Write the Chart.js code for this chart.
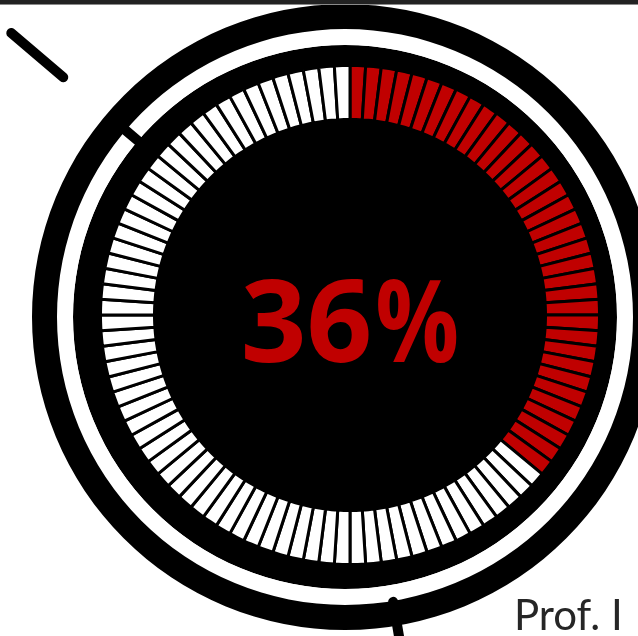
<!DOCTYPE html>
<html>
<head>
<meta charset="utf-8">
<script src="https://cdn.jsdelivr.net/npm/chart.js@4.4.1/dist/chart.umd.min.js"></script>
<style>
  html, body { margin: 0; padding: 0; width: 638px; height: 636px; overflow: hidden; background: #fff; }
  #ringCanvas { position: absolute; left: 0; top: 0; }
  #gaugeCanvas { position: absolute; left: 99px; top: 64px; }
  #topBar { position: absolute; left: 0; top: 0; width: 638px; height: 4px; background: #222; border-bottom: 1px solid #8a8a8a; }
  #caption { position: absolute; left: 514px; top: 593px; font-family: Lato, "Open Sans", sans-serif; font-size: 42px; line-height: 42px; color: #262626; white-space: nowrap; }
</style>
</head>
<body>
<canvas id="ringCanvas" width="660" height="636"></canvas>
<canvas id="gaugeCanvas" width="502" height="502"></canvas>
<div id="topBar"></div>
<div id="caption">Prof. I</div>
<script>
// Gauge reading and its cell layout
const percentValue = 36;
const cellCount = 100;
const cellColors = { filled: '#c00000', empty: '#ffffff' };

// Bezel rings, outermost first, with their relative thickness
const ringNames = ['outer rim', 'inner groove', 'face'];
const ringWeights = [25, 16, 272];
const ringColors = ['#000000', '#ffffff', '#000000'];

// Pointer strokes on the bezel: angle in degrees clockwise from 12 o'clock,
// radial extent as a fraction of the rim radius
const pointerAngles = [310.4, 310.4, 170.4];
const pointerFrom = [0.86, 1.182, 0.923];
const pointerTo = [0.93, 1.40, 1.25];

const cells = Array.from({ length: cellCount }, () => 1);
const cellFill = cells.map((_, i) => i < percentValue ? cellColors.filled : cellColors.empty);

const pointerPlugin = {
  id: 'pointers',
  afterDraw(chart) {
    const arc = chart.getDatasetMeta(0).data[0];
    const cx = arc.x, cy = arc.y, R = arc.outerRadius;
    const ctx = chart.ctx;
    ctx.save();
    ctx.strokeStyle = '#000';
    ctx.lineWidth = 10;
    ctx.lineCap = 'round';
    pointerAngles.forEach((deg, i) => {
      const a = deg * Math.PI / 180;
      const sx = Math.sin(a), sy = -Math.cos(a);
      ctx.beginPath();
      ctx.moveTo(cx + sx * R * pointerFrom[i], cy + sy * R * pointerFrom[i]);
      ctx.lineTo(cx + sx * R * pointerTo[i], cy + sy * R * pointerTo[i]);
      ctx.stroke();
    });
    ctx.restore();
  }
};

new Chart(document.getElementById('ringCanvas'), {
  type: 'doughnut',
  data: {
    labels: ['ring'],
    datasets: ringNames.map((name, i) => ({
      label: name,
      data: [1],
      weight: ringWeights[i],
      backgroundColor: ringColors[i],
      borderWidth: 0,
      hoverBorderWidth: 0,
      hoverOffset: 0
    }))
  },
  options: {
    responsive: false,
    animation: false,
    events: [],
    cutout: 0,
    layout: { padding: { left: 32, top: 4, right: 2, bottom: 6 } },
    plugins: { legend: { display: false }, tooltip: { enabled: false } }
  },
  plugins: [pointerPlugin]
});

// Centre readout: the number, then a narrower percent sign
const readoutPlugin = {
  id: 'readout',
  afterDraw(chart) {
    const arc = chart.getDatasetMeta(0).data[0];
    const ctx = chart.ctx;
    const numText = String(percentValue);
    const pctScale = 0.81, pctGap = 3;
    ctx.save();
    ctx.fillStyle = cellColors.filled;
    ctx.font = 'bold 115px "Open Sans", "Noto Sans", sans-serif';
    ctx.textAlign = 'left';
    ctx.textBaseline = 'alphabetic';
    const numW = ctx.measureText(numText).width;
    const pctW = ctx.measureText('%').width * pctScale;
    const total = numW + pctGap + pctW;
    const x0 = arc.x - total / 2;
    const baseY = arc.y + 47;
    ctx.fillText(numText, x0, baseY);
    ctx.translate(x0 + numW + pctGap, baseY);
    ctx.scale(pctScale, 1);
    ctx.fillText('%', 0, 0);
    ctx.restore();
  }
};

new Chart(document.getElementById('gaugeCanvas'), {
  type: 'doughnut',
  data: {
    labels: cells.map((_, i) => String(i + 1)),
    datasets: [{
      data: cells,
      backgroundColor: cellFill,
      borderColor: '#000000',
      borderWidth: 3,
      hoverBorderWidth: 3,
      hoverOffset: 0
    }]
  },
  options: {
    responsive: false,
    animation: false,
    events: [],
    cutout: 195.5,
    plugins: { legend: { display: false }, tooltip: { enabled: false } }
  },
  plugins: [readoutPlugin]
});
</script>
</body>
</html>
